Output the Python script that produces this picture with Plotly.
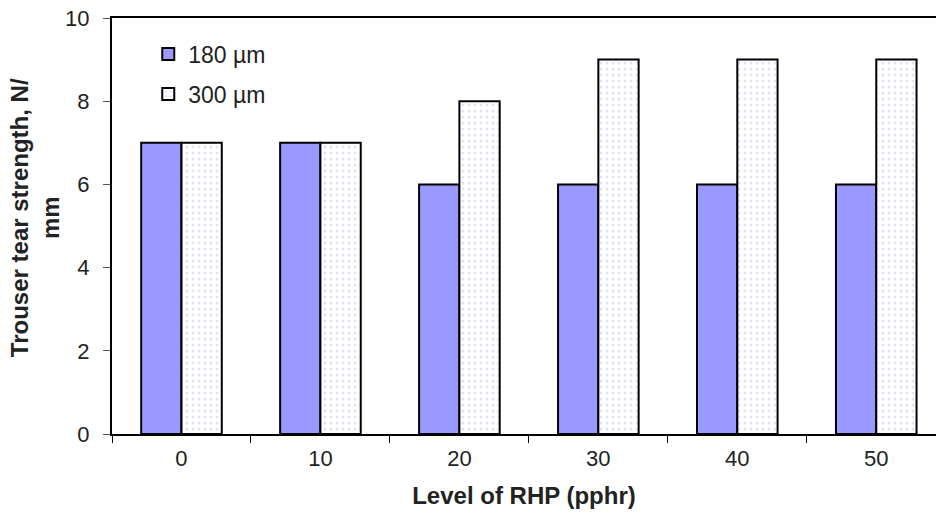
import plotly.graph_objects as go

# Trouser tear strength vs. RHP loading for two film thicknesses
rhp_levels = ["0", "10", "20", "30", "40", "50"]
strength_180 = [7, 7, 6, 6, 6, 6]
strength_300 = [7, 7, 8, 9, 9, 9]
series_names = ["180 \u00b5m", "300 \u00b5m"]
y_title = "<b>Trouser tear strength, N/<br>mm</b>"

fig = go.Figure()
fig.add_trace(go.Bar(
    x=rhp_levels, y=strength_180, name=series_names[0], legendgroup="a",
    marker=dict(color="#9999ff", line=dict(color="black", width=2)),
))
fig.add_trace(go.Bar(
    x=rhp_levels, y=strength_300, name=series_names[1], legendgroup="b",
    marker=dict(color="white", line=dict(color="black", width=2),
                pattern=dict(shape=".", fgcolor="#c4c4f0", bgcolor="white",
                             size=6, solidity=0.2)),
))

font_family = "Liberation Sans, Arial, sans-serif"
fig.update_layout(
    width=936, height=516,
    margin=dict(l=112, r=0, t=18, b=82),
    plot_bgcolor="white", paper_bgcolor="white",
    barmode="group", bargap=0.42, bargroupgap=0,
    font=dict(family=font_family, size=22, color="#222"),
    showlegend=True,
    legend=dict(x=0.044, y=0.965, xanchor="left", yanchor="top",
                bgcolor="rgba(0,0,0,0)", font=dict(size=23, color="#222"),
                tracegroupgap=7, itemwidth=30),
    xaxis=dict(
        range=[-0.5, 5.43], showline=True, linecolor="black", linewidth=2,
        mirror=True, ticks="outside", tickson="boundaries", ticklen=7,
        tickcolor="black", tickwidth=1, showgrid=False,
        tickfont=dict(size=22), ticklabelstandoff=4,
        title=dict(text="<b>Level of RHP (pphr)</b>", font=dict(size=24, color="#222"),
                   standoff=17),
    ),
    yaxis=dict(
        range=[0, 10], dtick=2, showline=True, linecolor="black", linewidth=2,
        ticks="outside", ticklen=7, tickcolor="#555", tickwidth=1,
        showgrid=False, zeroline=False, tickfont=dict(size=22),
        ticklabelstandoff=9,
    ),
)

# Rotated two-line y-axis title placed left of the tick labels
fig.add_annotation(
    text=y_title, textangle=-90, showarrow=False,
    xref="paper", yref="paper", x=-0.0934, y=0.519,
    xanchor="center", yanchor="middle",
    font=dict(size=24, color="#222"),
)

fig.write_html("out.html")
